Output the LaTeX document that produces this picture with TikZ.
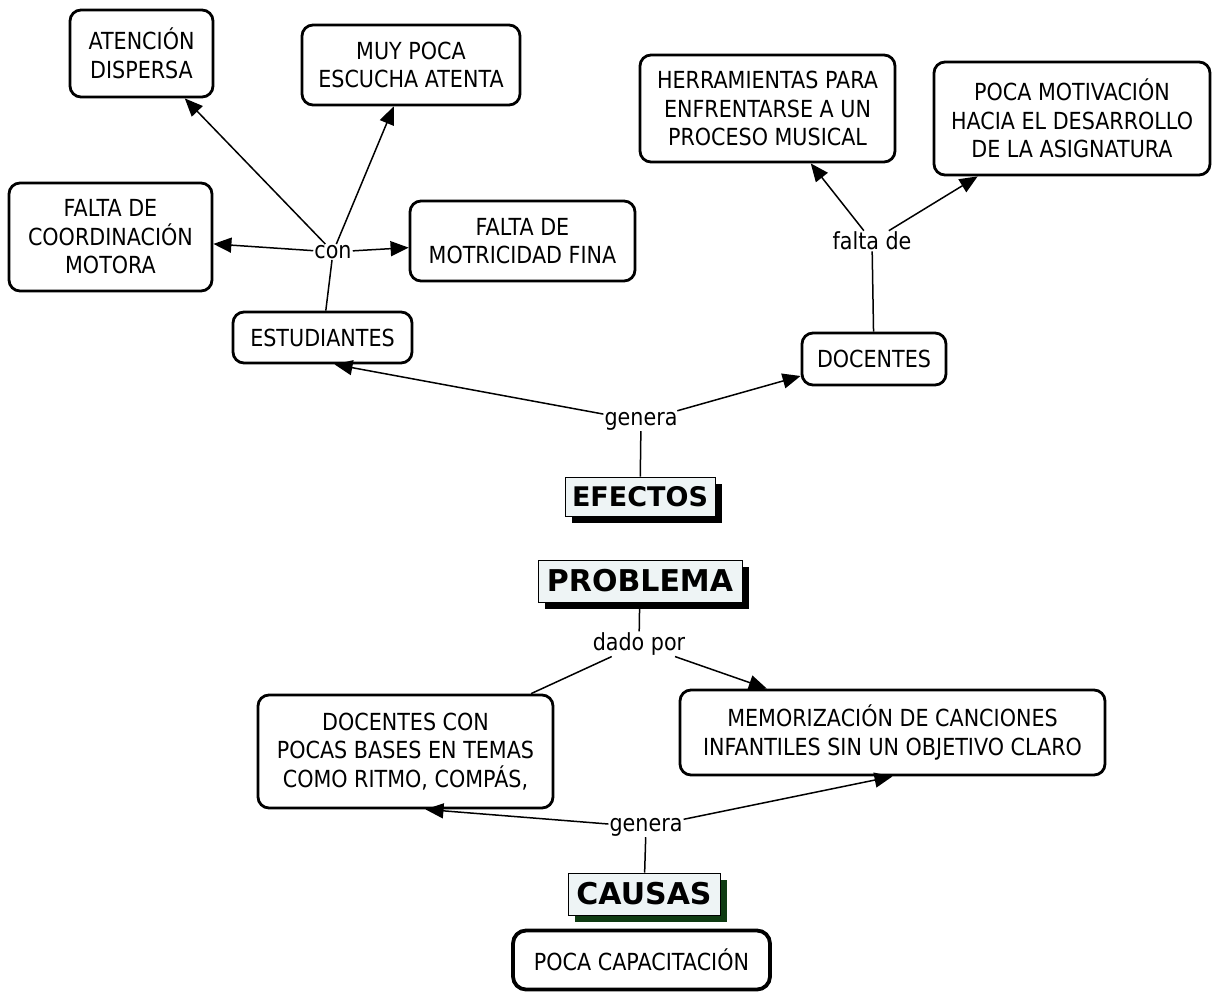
\documentclass[tikz,border=0pt]{standalone}
\usepackage{fontspec}
\setmainfont{DejaVu Sans}[FakeStretch=0.88]
\newfontfamily\tfont{DejaVu Sans}
\usetikzlibrary{arrows.meta,shadows,calc}
\definecolor{titlefill}{HTML}{EEF4F5}
\definecolor{shgreen}{HTML}{0E3B12}
\begin{document}
\begin{tikzpicture}[x=1pt,y=-1pt,
  concept/.style={draw, line width=2.8pt, rounded corners=11pt, fill=white,
    align=center, inner sep=0pt, font=\fontsize{23.5}{28.5}\selectfont},
  lbl/.style={inner sep=1pt, font=\fontsize{23.5}{28}\selectfont},
  titlebox/.style={draw, line width=1pt, fill=titlefill, inner sep=0pt,
    general shadow={fill=black, shadow xshift=7pt, shadow yshift=-7pt}},
  link/.style={line width=1.5pt},
  arr/.style={link, -{Triangle[length=18pt,width=15pt]}},
]
\useasboundingbox (0,0) rectangle (1214,993);

% concepts
\node[concept, minimum width=143pt, minimum height=87pt] (aten) at (141.5,53.5) {ATENCIÓN\\DISPERSA};
\node[concept, minimum width=218pt, minimum height=80pt] (muy) at (411,65) {MUY POCA\\ESCUCHA ATENTA};
\node[concept, minimum width=203pt, minimum height=108pt] (coord) at (110.5,237) {FALTA DE\\COORDINACIÓN\\MOTORA};
\node[concept, minimum width=225pt, minimum height=80pt] (motr) at (522.5,241) {FALTA DE\\MOTRICIDAD FINA};
\node[concept, minimum width=179pt, minimum height=51pt] (est) at (322.5,337.5) {ESTUDIANTES};
\node[concept, minimum width=255pt, minimum height=107pt] (herr) at (767.5,108.5) {HERRAMIENTAS PARA\\ENFRENTARSE A UN\\PROCESO MUSICAL};
\node[concept, minimum width=276pt, minimum height=113pt] (moti) at (1072,118.5) {POCA MOTIVACIÓN\\HACIA EL DESARROLLO\\DE LA ASIGNATURA};
\node[concept, minimum width=144pt, minimum height=52pt] (doc) at (874,359) {DOCENTES};
\node[concept, minimum width=295pt, minimum height=113pt] (doccon) at (405.5,751.5) {DOCENTES CON\\POCAS BASES EN TEMAS\\COMO RITMO, COMPÁS,};
\node[concept, minimum width=425pt, minimum height=85pt] (memo) at (892.5,732.5) {MEMORIZACIÓN DE CANCIONES\\INFANTILES SIN UN OBJETIVO CLARO};
\node[concept, line width=3.8pt, rounded corners=13pt, minimum width=257pt, minimum height=59pt] (poca) at (641.5,960) {POCA CAPACITACIÓN};

% titles
\node[titlebox, minimum width=150pt, minimum height=39pt, font=\tfont\bfseries\fontsize{27}{30}\selectfont] (efectos) at (640,496.5) {EFECTOS};
\node[titlebox, minimum width=204pt, minimum height=42pt, font=\tfont\bfseries\fontsize{30}{32}\selectfont] (problema) at (640,581) {PROBLEMA};
\node[titlebox, general shadow={fill=shgreen, shadow xshift=7pt, shadow yshift=-7pt}, minimum width=152pt, minimum height=42pt, font=\tfont\bfseries\fontsize{30}{32}\selectfont] (causas) at (644,894) {CAUSAS};

% linking phrases
\node[lbl] (con) at (333,252) {con};
\node[lbl] (falta) at (872,241) {falta de};
\node[lbl] (genera) at (641,421) {genera};
\node[lbl] (dado) at (639,644) {dado por};
\node[lbl] (genera2) at (646,827) {genera};

% connectors
\draw[link] (est) -- (con);
\draw[arr] (con) -- (aten);
\draw[arr] (con) -- (muy);
\draw[arr] (con) -- (coord);
\draw[arr] (con) -- (motr);

\draw[link] (doc) -- (falta);
\draw[arr] (falta) -- (herr);
\draw[arr] (falta) -- (moti);

\draw[link] (efectos) -- (genera);
\draw[arr] (genera) -- ($(est.south)+(12,0)$);
\draw[arr] (genera) -- ($(doc.west)+(0,17)$);

\draw[link] (problema) -- (dado);
\draw[link] (dado) -- (doccon);
\draw[arr] (dado) -- (memo);

\draw[link] (causas) -- (genera2);
\draw[arr] (genera2) -- ($(doccon.south)+(20,0)$);
\draw[arr] (genera2) -- (memo.south);
\end{tikzpicture}
\end{document}
